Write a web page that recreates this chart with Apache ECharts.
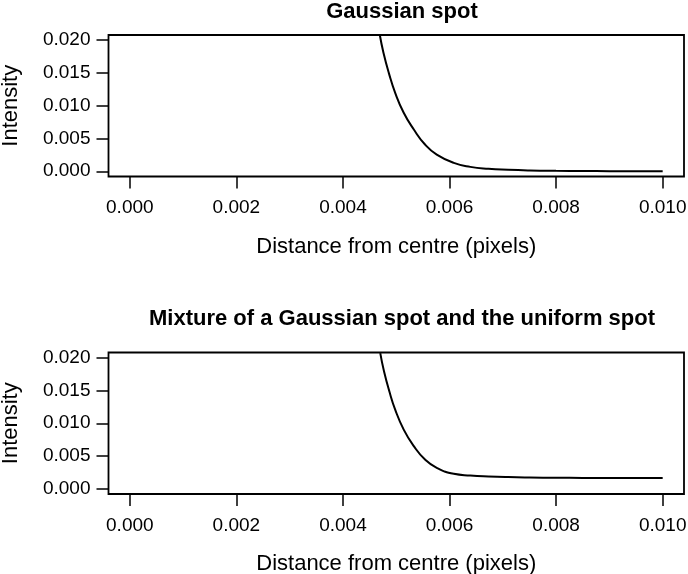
<!DOCTYPE html>
<html>
<head>
<meta charset="utf-8">
<script src="https://cdn.jsdelivr.net/npm/echarts@6/dist/echarts.min.js"></script>
<style>html,body{margin:0;padding:0;background:#fff}#c{width:688px;height:574px}</style>
</head>
<body>
<div id="c"></div>
<script>
// Data
const titleTop = "Gaussian spot";
const titleBottom = "Mixture of a Gaussian spot and the uniform spot";
const xName = "Distance from centre (pixels)";
const yName = "Intensity";
const xTicks = [0, 0.002, 0.004, 0.006, 0.008, 0.010];
const yTicks = [0, 0.005, 0.010, 0.015, 0.020];

const gaussX = [0.00469, 0.00476, 0.00486, 0.00498, 0.00514, 0.00533, 0.00554, 0.00576, 0.00608, 0.00639, 0.00673, 0.00710, 0.00751, 0.00800, 0.00850, 0.00900, 0.01000];
const gaussY = [0.02087, 0.01808, 0.01502, 0.01197, 0.00892, 0.00637, 0.00408, 0.00255, 0.00128, 0.00067, 0.00037, 0.00022, 0.00012, 0.00006, 0.00003, 0.00002, 0.00001];

const mixX = [0.00470, 0.00477, 0.00487, 0.00498, 0.00514, 0.00533, 0.00554, 0.00576, 0.00608, 0.00639, 0.00673, 0.00710, 0.00751, 0.00800, 0.00850, 0.00900, 0.01000];
const mixY = [0.02070, 0.01793, 0.01488, 0.01208, 0.00903, 0.00650, 0.00446, 0.00320, 0.00228, 0.00203, 0.00188, 0.00178, 0.00172, 0.00168, 0.00165, 0.00164, 0.00163];

const FONT = "Liberation Sans";
function pairs(xs, ys) { return xs.map((x, i) => [x, ys[i]]); }

function xAxisCfg(gridIndex) {
  return {
    type: 'value', gridIndex, min: -0.0004, max: 0.0104,
    name: xName, nameLocation: 'middle', nameGap: 59,
    nameTextStyle: { fontFamily: FONT, fontSize: 22, color: '#000' },
    axisLine: { show: false, onZero: false },
    splitLine: { show: false },
    axisTick: { show: true, inside: false, length: 12, customValues: xTicks, lineStyle: { color: '#000', width: 1.5 } },
    axisLabel: { customValues: xTicks, margin: 22, fontFamily: FONT, fontSize: 19, color: '#000',
      formatter: v => v.toFixed(3) }
  };
}
function yAxisCfg(gridIndex) {
  return {
    type: 'value', gridIndex, min: -0.0008, max: 0.0208,
    name: yName, nameLocation: 'middle', nameGap: 87, nameRotate: 90,
    nameTextStyle: { fontFamily: FONT, fontSize: 22, color: '#000' },
    axisLine: { show: false, onZero: false },
    splitLine: { show: false },
    axisTick: { show: true, inside: false, length: 12, customValues: yTicks, lineStyle: { color: '#000', width: 1.5 } },
    axisLabel: { customValues: yTicks, margin: 18, fontFamily: FONT, fontSize: 19, color: '#000',
      formatter: v => v.toFixed(3) }
  };
}

const chart = echarts.init(document.getElementById('c'), null, { renderer: 'canvas' });
chart.setOption({
  animation: false,
  backgroundColor: '#fff',
  title: [
    { text: titleTop, left: 397, top: -4, textAlign: 'center',
      textStyle: { fontFamily: FONT, fontSize: 22, fontWeight: 'bold', color: '#000' } },
    { text: titleBottom, left: 397, top: 303, textAlign: 'center',
      textStyle: { fontFamily: FONT, fontSize: 22, fontWeight: 'bold', color: '#000' } }
  ],
  grid: [
    { left: 108.5, right: 4, top: 35, height: 141.5, show: true, borderColor: '#000', borderWidth: 1.8, backgroundColor: 'transparent', outerBoundsMode: 'none', containLabel: false },
    { left: 108.5, right: 4, top: 352.5, height: 141.5, show: true, borderColor: '#000', borderWidth: 1.8, backgroundColor: 'transparent', outerBoundsMode: 'none', containLabel: false }
  ],
  xAxis: [xAxisCfg(0), xAxisCfg(1)],
  yAxis: [yAxisCfg(0), yAxisCfg(1)],
  series: [
    { type: 'line', xAxisIndex: 0, yAxisIndex: 0, data: pairs(gaussX, gaussY), showSymbol: false,
      smooth: 0.5, clip: true, lineStyle: { color: '#000', width: 2 } },
    { type: 'line', xAxisIndex: 1, yAxisIndex: 1, data: pairs(mixX, mixY), showSymbol: false,
      smooth: 0.5, clip: true, lineStyle: { color: '#000', width: 2 } }
  ]
});
</script>
</body>
</html>
